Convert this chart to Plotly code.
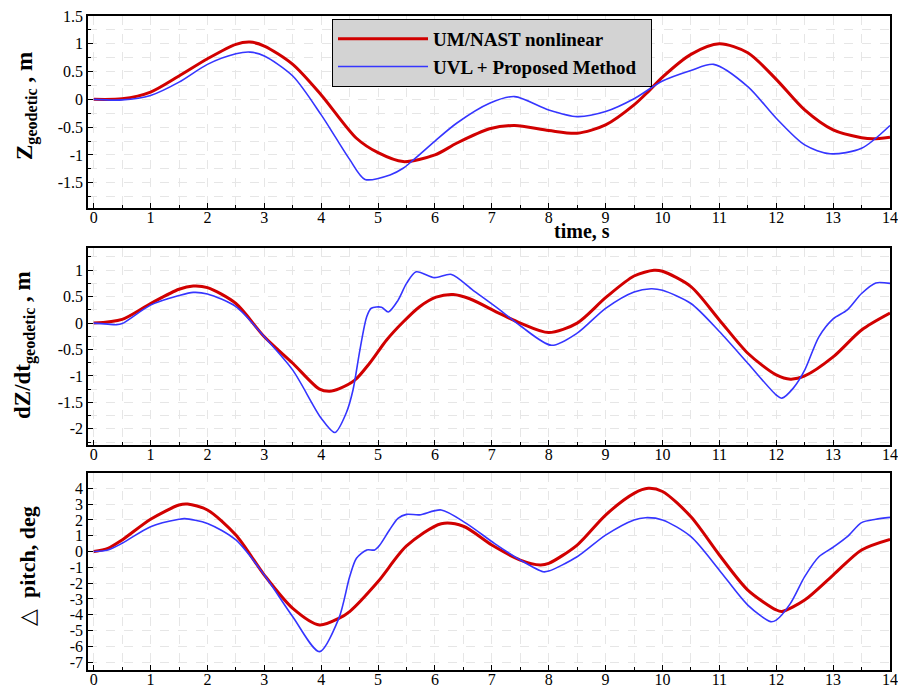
import plotly.graph_objects as go

# ---------------- data ----------------
t_red1 = [0, 0.5, 1, 1.5, 2, 2.5, 2.75, 3, 3.5, 4, 4.62, 5, 5.44, 6, 6.38, 6.96, 7.4, 8, 8.5, 9, 9.5, 9.75, 10, 10.5, 11, 11.5, 12, 12.5, 13, 13.5, 13.7, 14]
z_red = [0, 0.01, 0.13, 0.42, 0.73, 0.99, 1.03, 0.96, 0.63, 0.08, -0.70, -0.96, -1.12, -1.0, -0.79, -0.53, -0.47, -0.56, -0.61, -0.46, -0.1, 0.14, 0.40, 0.81, 1.0, 0.84, 0.36, -0.19, -0.55, -0.69, -0.71, -0.68]
t_blue1 = [0, 0.5, 1, 1.5, 2, 2.5, 2.75, 3, 3.5, 4, 4.25, 4.5, 4.77, 5.21, 5.44, 5.62, 6, 6.38, 6.96, 7.4, 8, 8.5, 9, 9.5, 10, 10.5, 10.9, 11.5, 12, 12.5, 12.95, 13.5, 14]
z_blue = [0, -0.01, 0.07, 0.31, 0.63, 0.82, 0.85, 0.78, 0.42, -0.28, -0.68, -1.08, -1.44, -1.36, -1.24, -1.09, -0.75, -0.43, -0.07, 0.05, -0.19, -0.31, -0.22, 0.01, 0.33, 0.52, 0.63, 0.23, -0.34, -0.82, -0.98, -0.88, -0.47]

t_red2 = [0, 0.5, 1, 1.5, 1.75, 2, 2.5, 3, 3.5, 3.97, 4.15, 4.32, 4.59, 4.85, 5.15, 5.44, 5.73, 6.02, 6.32, 6.61, 7.14, 7.5, 8, 8.5, 9, 9.5, 9.85, 10, 10.5, 11, 11.5, 12, 12.25, 12.5, 13, 13.5, 14]
dz_red = [0, 0.07, 0.37, 0.64, 0.70, 0.67, 0.37, -0.26, -0.76, -1.25, -1.29, -1.24, -1.08, -0.76, -0.32, 0.02, 0.31, 0.49, 0.54, 0.46, 0.18, 0.0, -0.18, 0.0, 0.48, 0.89, 1.0, 0.98, 0.69, 0.06, -0.57, -0.98, -1.06, -1.0, -0.64, -0.13, 0.19]
t_blue2 = [0, 0.25, 0.4, 0.5, 1, 1.5, 1.75, 2, 2.5, 3, 3.5, 4, 4.24, 4.44, 4.56, 4.68, 4.8, 4.88, 5.06, 5.18, 5.35, 5.5, 5.67, 5.99, 6.29, 6.67, 7.14, 7.5, 8.05, 8.5, 9, 9.5, 9.8, 10, 10.5, 11, 11.5, 12, 12.1, 12.3, 12.5, 12.75, 13, 13.25, 13.5, 13.75, 14]
dz_blue = [0, -0.02, -0.03, -0.01, 0.34, 0.52, 0.58, 0.55, 0.31, -0.26, -0.89, -1.80, -2.07, -1.70, -1.26, -0.51, 0.12, 0.28, 0.30, 0.21, 0.43, 0.75, 0.97, 0.86, 0.92, 0.62, 0.25, -0.05, -0.42, -0.19, 0.28, 0.59, 0.65, 0.62, 0.37, -0.16, -0.76, -1.36, -1.42, -1.23, -0.89, -0.26, 0.08, 0.25, 0.56, 0.76, 0.75]

t_red3 = [0, 0.25, 0.5, 1, 1.5, 1.65, 2, 2.5, 3, 3.5, 3.97, 4.31, 4.5, 5, 5.5, 6.11, 6.5, 7, 7.5, 7.85, 8, 8.5, 9, 9.5, 9.75, 10, 10.5, 11, 11.5, 12, 12.1, 12.5, 13, 13.5, 14]
p_red = [0, 0.2, 0.73, 2.04, 2.94, 3.0, 2.63, 1.04, -1.49, -3.6, -4.65, -4.23, -3.8, -1.9, 0.35, 1.76, 1.6, 0.41, -0.54, -0.85, -0.75, 0.41, 2.31, 3.68, 4.0, 3.8, 2.2, -0.22, -2.44, -3.7, -3.8, -3.07, -1.49, 0.1, 0.77]
t_blue3 = [0, 0.25, 0.5, 1, 1.5, 1.6, 2, 2.5, 3, 3.5, 3.97, 4.31, 4.5, 4.62, 4.8, 4.94, 5.03, 5.2, 5.35, 5.5, 5.73, 6.11, 6.55, 7.05, 7.5, 7.9, 8, 8.5, 9, 9.5, 9.7, 10, 10.5, 11, 11.5, 11.9, 12, 12.25, 12.5, 12.75, 13, 13.25, 13.5, 13.75, 14]
p_blue = [0, 0.1, 0.52, 1.57, 2.04, 2.08, 1.78, 0.73, -1.49, -4.13, -6.34, -4.23, -1.6, -0.43, 0.1, 0.1, 0.41, 1.36, 2.1, 2.35, 2.32, 2.63, 1.78, 0.5, -0.54, -1.28, -1.24, -0.33, 1.04, 2.0, 2.14, 2.0, 0.94, -1.18, -3.39, -4.44, -4.34, -3.28, -1.59, -0.33, 0.27, 0.94, 1.83, 2.04, 2.16]

name_red = "UM/NAST nonlinear"
name_blue = "UVL + Proposed Method"
x_ticks = list(range(0, 15))

# ---------------- figure ----------------
W, H = 898, 686
RED = "#d10000"
BLUE = "#3535ff"
SERIF = "Liberation Serif, Times New Roman, serif"

fig = go.Figure()

panels = [
    (t_red1, z_red, t_blue1, z_blue, ""),
    (t_red2, dz_red, t_blue2, dz_blue, "2"),
    (t_red3, p_red, t_blue3, p_blue, "3"),
]
for i, (tr, yr, tb, yb, s) in enumerate(panels):
    fig.add_trace(go.Scatter(x=tr, y=yr, mode="lines", name=name_red + "\u00a0\u00a0",
                             line=dict(color=RED, width=3, shape="spline", smoothing=0.8),
                             xaxis="x" + s, yaxis="y" + s, showlegend=(i == 0)))
    fig.add_trace(go.Scatter(x=tb, y=yb, mode="lines", name=name_blue + "\u00a0\u00a0",
                             line=dict(color=BLUE, width=1.6, shape="spline", smoothing=0.8),
                             xaxis="x" + s, yaxis="y" + s, showlegend=(i == 0)))

def px_x(p):
    return p / W

def px_y(p):
    return 1 - p / H

xdom = [px_x(88), px_x(890)]
ydoms = [
    [px_y(208), px_y(16)],
    [px_y(444.7), px_y(248)],
    [px_y(670), px_y(473.3)],
]
yranges = [[-1.955, 1.5], [-2.3, 1.42], [-7.5, 4.95]]
ytickvals = [
    [-1.5, -1, -0.5, 0, 0.5, 1, 1.5],
    [-2, -1.5, -1, -0.5, 0, 0.5, 1],
    [-7, -6, -5, -4, -3, -2, -1, 0, 1, 2, 3, 4],
]
yminor = [0.25, 0.25, 1.0]

grid_col = "#e6e6e6"
xtickfont = dict(family=SERIF, size=16, color="black")
ytickfont = dict(family=SERIF, size=16, color="black")

layout = dict(
    width=W, height=H,
    margin=dict(l=0, r=0, t=0, b=0, pad=0, autoexpand=False),
    paper_bgcolor="white", plot_bgcolor="white",
    showlegend=True,
    legend=dict(x=px_x(332), y=px_y(19), xanchor="left", yanchor="top",
                bgcolor="#d3d3d3", bordercolor="black", borderwidth=1,
                font=dict(family=SERIF, size=19, color="black", weight="bold"),
                itemwidth=90, tracegroupgap=0),
)

for i in range(3):
    sfx = "" if i == 0 else str(i + 1)
    layout["xaxis" + sfx] = dict(
        domain=xdom, anchor="y" + sfx, range=[-0.1, 14], automargin=False,
        tickvals=x_ticks, ticktext=[str(v) for v in x_ticks],
        ticks="inside", ticklen=5, tickwidth=1, tickcolor="black",
        ticklabelstandoff=-6,
        showline=True, linecolor="black", linewidth=1.5, mirror=True,
        showgrid=True, gridcolor=grid_col, griddash="dash", gridwidth=1,
        minor=dict(dtick=0.5, tick0=0, ticks="inside", ticklen=3, tickcolor="black",
                   showgrid=True, gridcolor=grid_col, griddash="dash"),
        tickfont=xtickfont, zeroline=False,
    )
    layout["yaxis" + sfx] = dict(
        domain=ydoms[i], anchor="x" + sfx, range=yranges[i], automargin=False,
        tickvals=ytickvals[i], ticktext=[("%g" % v) for v in ytickvals[i]],
        ticks="inside", ticklen=5, tickwidth=1, tickcolor="black",
        showline=True, linecolor="black", linewidth=1.5, mirror=True,
        showgrid=True, gridcolor=grid_col, griddash="dash", gridwidth=1,
        minor=dict(dtick=yminor[i], tick0=0, ticks="inside", ticklen=3, tickcolor="black",
                   showgrid=True, gridcolor=grid_col, griddash="dash"),
        tickfont=ytickfont, zeroline=False,
    )

fig.update_layout(**layout)

ann_font = dict(family=SERIF, size=23, color="black", weight="bold")
fig.add_annotation(x=px_x(26), y=px_y(106), xref="paper", yref="paper",
                   text="Z<sub>geodetic</sub> , m", textangle=-90, showarrow=False,
                   font=ann_font, xanchor="center", yanchor="middle")
fig.add_annotation(x=px_x(24), y=px_y(345), xref="paper", yref="paper",
                   text="dZ/dt<sub>geodetic</sub> , m", textangle=-90, showarrow=False,
                   font=ann_font, xanchor="center", yanchor="middle")
fig.add_annotation(x=px_x(27), y=px_y(566), xref="paper", yref="paper",
                   text="<span style='font-weight:normal'>△</span>  pitch, deg", textangle=-90, showarrow=False,
                   font=dict(family=SERIF, size=22, color="black", weight="bold"),
                   xanchor="center", yanchor="middle")
fig.add_annotation(x=px_x(582), y=px_y(231), xref="paper", yref="paper",
                   text="time, s", showarrow=False,
                   font=dict(family=SERIF, size=20, color="black", weight="bold"),
                   xanchor="center", yanchor="middle")

fig.write_html("out.html", config={"displayModeBar": False},
               post_script="document.body.style.margin='0';document.body.style.overflow='hidden';")
